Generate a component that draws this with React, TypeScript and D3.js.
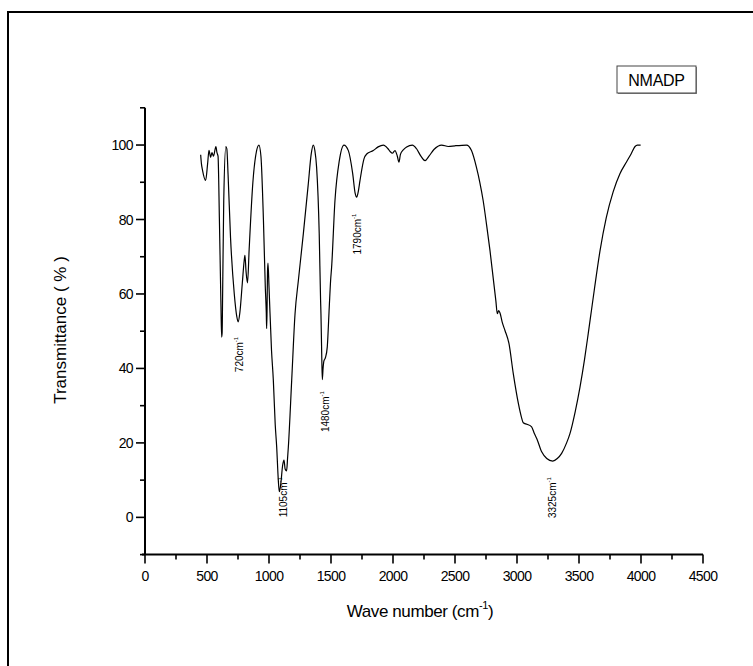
import React from "react";
import * as d3 from "d3";

const wavenumbers = [449, 455, 464, 489, 505, 516, 529, 540, 552, 572, 580, 589, 600, 612, 618, 622, 626, 635, 652, 660, 670, 690, 720, 740, 751, 765, 785, 800, 806, 815, 827, 840, 870, 900, 919, 935, 955, 970, 978, 981, 984, 988, 992, 1000, 1020, 1035, 1050, 1062, 1075, 1083, 1095, 1110, 1121, 1130, 1142, 1150, 1156, 1183, 1210, 1237, 1277, 1317, 1340, 1357, 1370, 1384, 1405, 1416, 1419, 1425, 1430, 1436, 1443, 1450, 1456, 1470, 1486, 1497, 1505, 1532, 1567, 1604, 1640, 1675, 1695, 1707, 1720, 1734, 1766, 1788, 1841, 1880, 1922, 1960, 1976, 1995, 2016, 2035, 2048, 2060, 2083, 2110, 2156, 2190, 2225, 2258, 2290, 2330, 2392, 2446, 2500, 2593, 2633, 2673, 2700, 2727, 2755, 2782, 2810, 2830, 2841, 2852, 2863, 2880, 2903, 2935, 2970, 3011, 3035, 3051, 3080, 3118, 3140, 3159, 3199, 3240, 3288, 3325, 3360, 3400, 3427, 3470, 3508, 3545, 3575, 3600, 3623, 3669, 3720, 3776, 3830, 3884, 3920, 3952, 3970, 3997];
const transmittance = [97.4, 95, 93.2, 90.5, 95, 98.6, 96.7, 98, 97, 99.6, 98, 97, 80, 58, 48.4, 49.5, 60, 85, 99.6, 99, 92, 75, 60, 54, 52.5, 55, 63, 69, 70.4, 66, 63, 72, 90, 98.5, 100, 97, 80, 62, 55, 50.7, 55, 66, 68.3, 62, 45, 36.8, 25, 18.9, 10, 6.9, 9, 14, 15.4, 13, 12.5, 16, 18.9, 36.8, 54.7, 63.7, 76.2, 89.6, 97.5, 100, 98.5, 94, 76.2, 58.3, 54.7, 44, 37, 40, 42, 42.5, 43, 45.8, 56.5, 63.7, 67.2, 85.1, 95.8, 100, 98.5, 92.3, 87, 86, 87.5, 90.5, 96.3, 97.6, 98.5, 99.5, 100, 99, 98.3, 97.8, 98.5, 97, 95.4, 97.5, 98.7, 99.5, 100, 99, 97, 95.8, 97, 98.8, 100, 99.6, 99.8, 100, 98.5, 94, 90, 85.1, 78.5, 71.7, 63.7, 58, 54.7, 55.5, 54.9, 52.5, 50.2, 46.7, 38.6, 30.6, 27, 25.4, 25, 24.3, 22.5, 21.2, 17.6, 15.8, 15.1, 15.8, 17.2, 20, 22.5, 28.5, 35, 42.5, 49.5, 55.5, 61, 71.5, 80.5, 87.5, 92.3, 95.5, 97.6, 99.6, 100, 100];

const xMajorTicks = [0, 500, 1000, 1500, 2000, 2500, 3000, 3500, 4000, 4500];
const xMinorTicks = [250, 750, 1250, 1750, 2250, 2750, 3250, 3750, 4250];
const yMajorTicks = [0, 20, 40, 60, 80, 100];
const yMinorTicks = [-10, 10, 30, 50, 70, 90, 110];

const peakLabels = ["720cm", "1105cm", "1480cm", "1790cm", "3325cm"];
const peakLabelWave = [766, 1113, 1452, 1710, 3290];
const peakLabelT = [39, 0, 22.9, 70.6, -0.2];

const legendLabel = "NMADP";
const xTitle = "Wave number (cm";
const yTitle = "Transmittance ( % )";

export default function App() {
  const W = 753, H = 666;
  const x = d3.scaleLinear().domain([0, 4500]).range([145, 703]);
  const y = d3.scaleLinear().domain([-10, 110]).range([554.6, 107.8]);
  const pts = wavenumbers.map((w, i) => [w, transmittance[i]] as [number, number]);
  const line = d3.line<[number, number]>().x(d => x(d[0])).y(d => y(d[1])).curve(d3.curveMonotoneX);
  const font = "'Liberation Sans', Arial, sans-serif";
  const x0 = x(0), y0 = y(-10);
  return (
    <div style={{ position: "fixed", left: 0, top: 0 }}>
      <svg width={W} height={H} style={{ display: "block", background: "#fff" }} fontFamily={font}>
        <rect x={8} y={12} width={800} height={700} fill="none" stroke="#000" strokeWidth={2} />
        {/* legend */}
        <rect x={618} y={67} width={79} height={27} fill="#888" />
        <rect x={617} y={66} width={79} height={27} fill="#fff" stroke="#444" strokeWidth={1} />
        <text x={656.5} y={86} fontSize={16} textAnchor="middle" fill="#000" letterSpacing={-0.3}>{legendLabel}</text>
        {/* axes */}
        <line x1={x0} x2={x0} y1={y(110)} y2={y0} stroke="#000" strokeWidth={2} />
        <line x1={x0 - 3} x2={x(4500)} y1={y0} y2={y0} stroke="#000" strokeWidth={2} />
        {xMajorTicks.map(t => (
          <g key={"xm" + t}>
            <line x1={x(t)} x2={x(t)} y1={y0} y2={y0 + 9} stroke="#000" strokeWidth={1.6} />
            <text x={x(t)} y={y0 + 26} fontSize={14} textAnchor="middle" letterSpacing={-0.6}>{t}</text>
          </g>
        ))}
        {xMinorTicks.map(t => (
          <line key={"xn" + t} x1={x(t)} x2={x(t)} y1={y0} y2={y0 + 5} stroke="#000" strokeWidth={1.6} />
        ))}
        {yMajorTicks.map(t => (
          <g key={"ym" + t}>
            <line x1={x0 - 9} x2={x0} y1={y(t)} y2={y(t)} stroke="#000" strokeWidth={1.6} />
            <text x={x0 - 12} y={y(t) + 5} fontSize={14} textAnchor="end" letterSpacing={-0.6}>{t}</text>
          </g>
        ))}
        {yMinorTicks.map(t => (
          <line key={"yn" + t} x1={x0 - 5} x2={x0} y1={y(t)} y2={y(t)} stroke="#000" strokeWidth={1.6} />
        ))}
        {/* curve */}
        <path d={line(pts) || ""} fill="none" stroke="#000" strokeWidth={1.2} />
        {/* peak labels */}
        {peakLabels.map((s, i) => (
          <text key={s} transform={`translate(${x(peakLabelWave[i]) + 3.5},${y(peakLabelT[i])}) rotate(-90)`} fontSize={10} textAnchor="start">
            {s}
            <tspan fontSize={6} dy={-5}>-1</tspan>
          </text>
        ))}
        {/* titles */}
        <text x={420} y={617} fontSize={17} textAnchor="middle" letterSpacing={-0.4}>
          {xTitle}
          <tspan fontSize={11} dy={-8}>-1</tspan>
          <tspan dy={8}>)</tspan>
        </text>
        <text transform="translate(66,330) rotate(-90)" fontSize={17} textAnchor="middle">{yTitle}</text>
      </svg>
    </div>
  );
}
